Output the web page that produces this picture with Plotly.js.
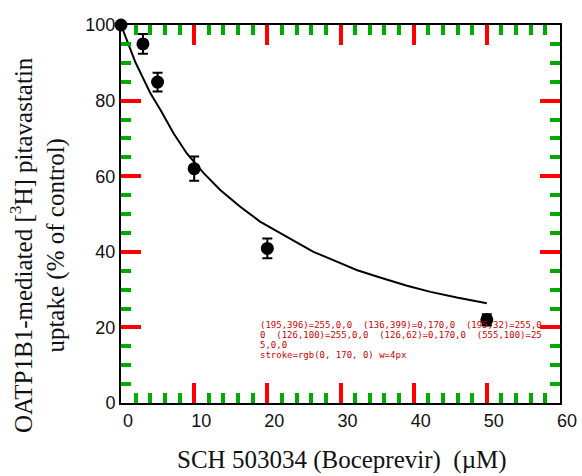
<!DOCTYPE html>
<html>
<head>
<meta charset="utf-8">
<script src="https://cdn.plot.ly/plotly-3.0.1.min.js"></script>
<style>
  html, body { margin: 0; padding: 0; background: #fff; }
  #chart { width: 582px; height: 476px; }
  #dbg { position: absolute; left: 260px; top: 320px; width: 290px; font: 9px monospace; color: #c00; white-space: pre-wrap; word-break: break-all; pointer-events: none; }
</style>
</head>
<body>
<div id="chart"></div>
<div id="dbg"></div>
<script>
const concentration = [0, 3, 5, 10, 20, 50];
const uptake = [100, 95.0, 84.9, 62.0, 40.9, 22.0];
const uptakeError = [0, 2.6, 2.5, 3.2, 2.6, 1.5];
const fitX = [0, 1, 2, 3, 4, 5.4, 7.2, 9, 11.3, 13.6, 16.3, 19, 22.2, 26.3, 29.5, 32.2, 35.4, 39.1, 42.3, 45.9, 50];
const fitY = [100, 95, 90, 86, 82, 77.5, 71.3, 66, 60.8, 56.3, 51.9, 48, 44.4, 40, 37.4, 35.2, 33.2, 31, 29.4, 27.9, 26.4];
const xRange = [0, 60], yRange = [0, 100];
const xMajorStep = 10, xMinorStep = 2;
const yMajorStep = 20, yMinorStep = 5;
const xTitle = 'SCH 503034 (Boceprevir)\u00a0\u00a0(\u00b5M)';
const yTitle = 'OATP1B1-mediated [<sup>3</sup>H] pitavastatin<br>uptake (% of control)';

const W = 582, H = 476, L = 121, R = 22, T = 25, B = 73;
const pw = W - L - R, ph = H - T - B;
const px2x = p => (p - L) / pw;
const px2y = p => (H - B - p) / ph;
const serif = '"Liberation Serif", "Times New Roman", Times, serif';
const sans = 'Arial, "Liberation Sans", Helvetica, sans-serif';

const traces = [
  { x: fitX, y: fitY, type: 'scatter', mode: 'lines', line: { color: '#000', width: 2 }, hoverinfo: 'skip', showlegend: false },
  { x: concentration, y: uptake, type: 'scatter', mode: 'markers', marker: { color: '#000', size: 13 },
    error_y: { type: 'data', array: uptakeError, visible: true, color: '#000', thickness: 2, width: 5 }, cliponaxis: false, showlegend: false }
];
const axisCommon = {
  showline: true, linecolor: '#000', linewidth: 2, mirror: 'ticks',
  ticks: 'inside', ticklen: 20, tickwidth: 4, tickcolor: '#f00',
  showgrid: false, zeroline: false, tickmode: 'linear', tick0: 0, automargin: false,
  tickfont: { family: sans, size: 18, color: '#111' }
};
const layout = {
  width: W, height: H, margin: { l: L, r: R, t: T, b: B, pad: 0 },
  paper_bgcolor: '#fff', plot_bgcolor: '#fff', showlegend: false,
  xaxis: Object.assign({}, axisCommon, { range: xRange, dtick: xMajorStep, ticklabelshift: 7,
    minor: { dtick: xMinorStep, ticks: 'inside', ticklen: 10, tickwidth: 4, tickcolor: '#0a0' } }),
  yaxis: Object.assign({}, axisCommon, { range: yRange, dtick: yMajorStep,
    minor: { dtick: yMinorStep, ticks: 'inside', ticklen: 10, tickwidth: 4, tickcolor: '#0a0' } }),
  annotations: [
    { text: xTitle, xref: 'paper', yref: 'paper', x: px2x(342), y: px2y(460), xanchor: 'center', yanchor: 'middle', showarrow: false, font: { family: serif, size: 25, color: '#111' } },
    { text: yTitle, xref: 'paper', yref: 'paper', x: px2x(37), y: px2y(245), xanchor: 'center', yanchor: 'middle', textangle: -90, showarrow: false, font: { family: serif, size: 25, color: '#111' } }
  ]
};

Plotly.newPlot('chart', traces, layout, { displayModeBar: false }).then(gd => {
  return Plotly.toImage(gd, { format: 'png', width: W, height: H }).then(url => new Promise(res => {
    const img = new Image();
    img.onload = () => {
      const c = document.createElement('canvas'); c.width = W; c.height = H;
      const ctx = c.getContext('2d'); ctx.drawImage(img, 0, 0);
      const pts = [[195, 396], [136, 399], [195, 32], [126, 100], [126, 62], [555, 100]];
      let s = '';
      for (const [x, y] of pts) { const d = ctx.getImageData(x, y, 1, 1).data; s += '(' + x + ',' + y + ')=' + d[0] + ',' + d[1] + ',' + d[2] + '  '; }
      const p = document.querySelector('path.xtick');
      s += '\nstroke=' + (p ? getComputedStyle(p).stroke + ' w=' + getComputedStyle(p).strokeWidth : 'none');
      document.getElementById('dbg').textContent = s;
      res();
    };
    img.src = url;
  }));
}).catch(e => { document.getElementById('dbg').textContent = 'ERR ' + e; });
</script>
</body>
</html>
